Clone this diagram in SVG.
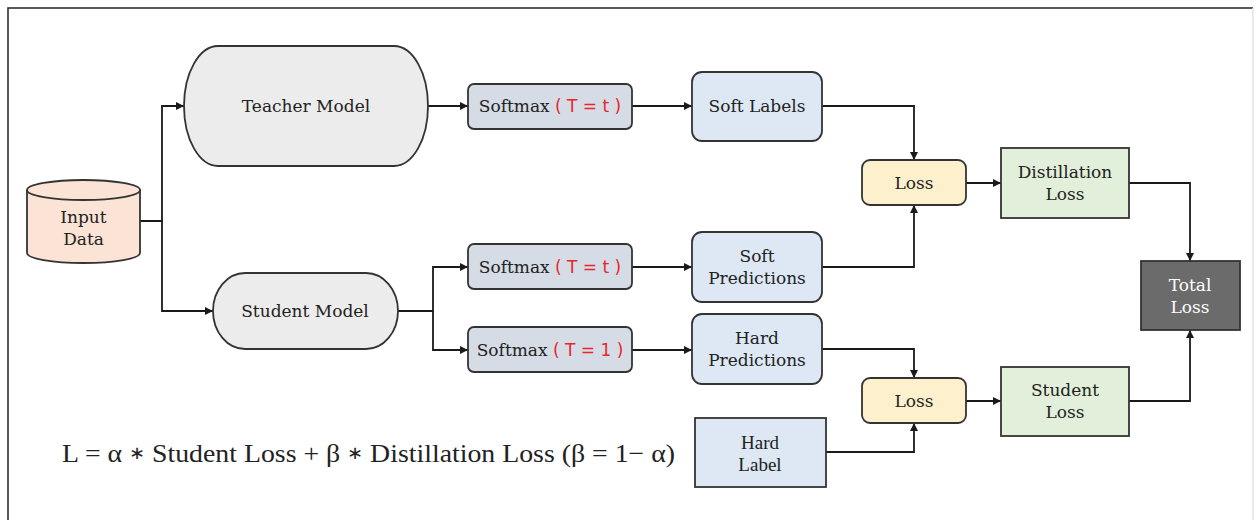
<svg xmlns="http://www.w3.org/2000/svg" width="1258" height="520" viewBox="0 0 1258 520">
<defs>
<marker id="ah" viewBox="0 0 10 10" refX="10" refY="5" markerWidth="8" markerHeight="8" markerUnits="userSpaceOnUse" orient="auto">
<path d="M0,0 L10,5 L0,10 z" fill="#1a1a1a"/>
</marker>
<style>
.t{font-family:"DejaVu Serif","Liberation Serif",serif;font-size:17px;fill:#222;text-anchor:middle;dominant-baseline:central}
.r{fill:#e8262a;font-family:"DejaVu Sans","Liberation Sans",sans-serif}
.n{font-family:"Liberation Serif",serif;font-size:19px}
.box{stroke:#333;stroke-width:1.8}
.sm{fill:#d6dce5}
.pr{fill:#dde8f4}
.ls{fill:#fdf1cd}
.gr{fill:#e2efda}
.c{fill:none;stroke:#1a1a1a;stroke-width:1.8}
</style>
</defs>
<rect width="1258" height="520" fill="#fff"/>
<path d="M8,520 V8 H1253" fill="none" stroke="#222" stroke-width="1.5"/>
<path d="M1253,8 V520" fill="none" stroke="#e2e2e2" stroke-width="1.5"/>

<g id="connectors">
<path class="c" d="M140,221 H162 V106 H184" marker-end="url(#ah)"/>
<path class="c" d="M162,221 V311 H213" marker-end="url(#ah)"/>
<path class="c" d="M428,106 H468" marker-end="url(#ah)"/>
<path class="c" d="M398,311 H433 V267 H468" marker-end="url(#ah)"/>
<path class="c" d="M433,311 V350 H468" marker-end="url(#ah)"/>
<path class="c" d="M632,106 H692" marker-end="url(#ah)"/>
<path class="c" d="M632,267 H692" marker-end="url(#ah)"/>
<path class="c" d="M632,350 H692" marker-end="url(#ah)"/>
<path class="c" d="M822,106 H914 V160" marker-end="url(#ah)"/>
<path class="c" d="M822,267 H914 V205" marker-end="url(#ah)"/>
<path class="c" d="M822,349 H914 V378" marker-end="url(#ah)"/>
<path class="c" d="M826,452 H914 V423" marker-end="url(#ah)"/>
<path class="c" d="M966,183 H1001" marker-end="url(#ah)"/>
<path class="c" d="M966,401 H1001" marker-end="url(#ah)"/>
<path class="c" d="M1129,183 H1190 V261" marker-end="url(#ah)"/>
<path class="c" d="M1129,401 H1190 V330" marker-end="url(#ah)"/>
</g>

<g id="input-data">
<path class="box" fill="#fbe3d5" d="M27,190 V253 A56.5,10 0 0 0 140,253 V190"/>
<ellipse class="box" fill="#fbe3d5" cx="83.5" cy="190" rx="56.5" ry="10"/>
<text class="t" x="83.5" y="217">Input</text>
<text class="t" x="83.5" y="239">Data</text>
</g>

<g id="teacher-model">
<rect class="box" fill="#ececec" x="184" y="46" width="244" height="120" rx="34" ry="60"/>
<text class="t" x="306" y="106">Teacher Model</text>
</g>

<g id="student-model">
<rect class="box" fill="#ececec" x="213" y="273" width="185" height="76" rx="32" ry="38"/>
<text class="t" x="305" y="311">Student Model</text>
</g>

<g id="softmax-teacher">
<rect class="box sm" x="468" y="84" width="164" height="45" rx="6"/>
<text class="t" x="550" y="106">Softmax <tspan class="r">( T = t )</tspan></text>
</g>

<g id="softmax-student-t">
<rect class="box sm" x="468" y="244" width="164" height="45" rx="6"/>
<text class="t" x="550" y="267">Softmax <tspan class="r">( T = t )</tspan></text>
</g>

<g id="softmax-student-1">
<rect class="box sm" x="468" y="327" width="164" height="45" rx="6"/>
<text class="t" x="550" y="350">Softmax <tspan class="r">( T = 1 )</tspan></text>
</g>

<g id="soft-labels">
<rect class="box pr" x="692" y="72" width="130" height="69" rx="10"/>
<text class="t" x="757" y="106">Soft Labels</text>
</g>

<g id="soft-predictions">
<rect class="box pr" x="692" y="232" width="130" height="70" rx="10"/>
<text class="t" x="757" y="256">Soft</text>
<text class="t" x="757" y="278">Predictions</text>
</g>

<g id="hard-predictions">
<rect class="box pr" x="692" y="314" width="130" height="70" rx="10"/>
<text class="t" x="757" y="338">Hard</text>
<text class="t" x="757" y="360">Predictions</text>
</g>

<g id="hard-label">
<rect class="box pr" x="695" y="418" width="131" height="69"/>
<text class="t n" x="760" y="442">Hard</text>
<text class="t n" x="760" y="464">Label</text>
</g>

<g id="loss-distill">
<rect class="box ls" x="862" y="160" width="104" height="45" rx="8"/>
<text class="t" x="914" y="183">Loss</text>
</g>

<g id="loss-student">
<rect class="box ls" x="862" y="378" width="104" height="45" rx="8"/>
<text class="t" x="914" y="401">Loss</text>
</g>

<g id="distillation-loss">
<rect class="box gr" x="1001" y="148" width="128" height="70"/>
<text class="t" x="1065" y="172">Distillation</text>
<text class="t" x="1065" y="194">Loss</text>
</g>

<g id="student-loss">
<rect class="box gr" x="1001" y="367" width="128" height="69"/>
<text class="t" x="1065" y="390">Student</text>
<text class="t" x="1065" y="412">Loss</text>
</g>

<g id="total-loss">
<rect class="box" fill="#6b6b6b" x="1141" y="261" width="99" height="69"/>
<text class="t" x="1190" y="285" style="fill:#fff">Total</text>
<text class="t" x="1190" y="307" style="fill:#fff">Loss</text>
</g>

<g id="formula">
<text x="62" y="453" style="font-family:'Liberation Serif',serif;font-size:26px;fill:#222;dominant-baseline:central" textLength="613" lengthAdjust="spacingAndGlyphs">L =  α <tspan style="font-size:18px">∗</tspan> Student Loss + β <tspan style="font-size:18px">∗</tspan> Distillation Loss  (β = 1− α)</text>
</g>
</svg>
